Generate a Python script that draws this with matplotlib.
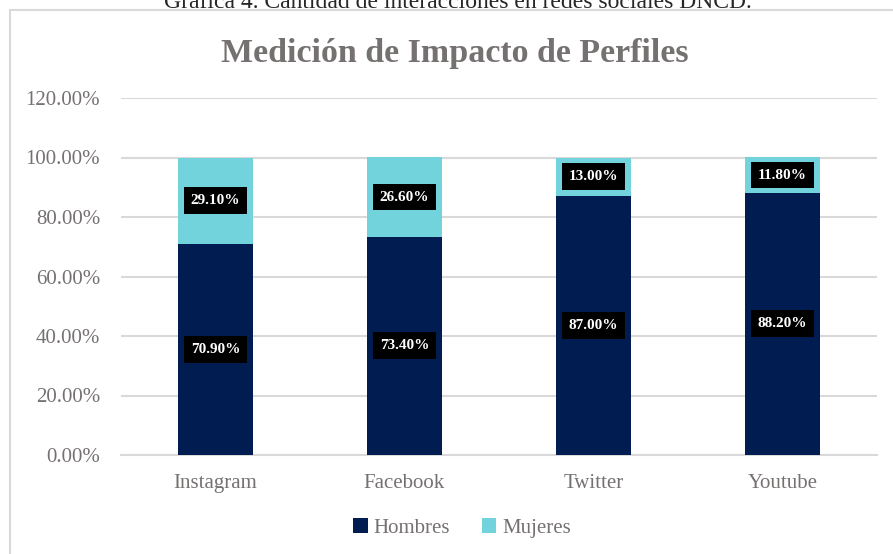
import matplotlib.pyplot as plt
import numpy as np
from matplotlib.patches import Rectangle
from matplotlib.ticker import FuncFormatter

# Datos (porcentajes)
redes = ["Instagram", "Facebook", "Twitter", "Youtube"]
hombres = [70.9, 73.4, 87.0, 88.2]
mujeres = [29.1, 26.6, 13.0, 11.8]
series = ["Hombres", "Mujeres"]
yticks = [0, 20, 40, 60, 80, 100, 120]

color_h = "#001C50"
color_m = "#73D3DC"
gris = "#767171"

plt.rcParams['font.family'] = ['Liberation Serif', 'DejaVu Serif']

W, H = 893, 554
fig = plt.figure(figsize=(W / 100, H / 100), dpi=100)

# marco del gráfico
fig.patches.append(Rectangle((10 / W, -0.05), 1.0, (H - 10) / H + 0.05,
                             transform=fig.transFigure, fill=False,
                             edgecolor="#D9D9D9", linewidth=1.5))

fig.text(458 / W, 1 - 8 / H, "Gráfica 4. Cantidad de interacciones en redes sociales DNCD.",
         ha='center', va='baseline', fontsize=17, color="#262626")
fig.text(455 / W, 1 - 62 / H, "Medición de Impacto de Perfiles",
         ha='center', va='baseline', fontsize=24.5, fontweight='bold', color=gris)

ax = fig.add_axes([121 / W, (H - 455) / H, (877 - 121) / W, (455 - 98) / H])
x = np.arange(len(redes))
ancho = 0.4
b1 = ax.bar(x, hombres, ancho, color=color_h, label=series[0], zorder=3)
b2 = ax.bar(x, mujeres, ancho, bottom=hombres, color=color_m, label=series[1], zorder=3)

for i in range(len(redes)):
    for val, base in [(hombres[i], 0), (mujeres[i], hombres[i])]:
        ax.text(x[i], base + val / 2, f"{val:.2f}%", ha='center', va='center',
                fontsize=11, fontweight='bold', color='white', zorder=5,
                bbox=dict(boxstyle='square,pad=0.45', facecolor='black', edgecolor='none'))

ax.set_xlim(-0.5, len(redes) - 0.5)
ax.set_ylim(0, 120)
ax.set_yticks(yticks)
ax.yaxis.set_major_formatter(FuncFormatter(lambda v, p: f"{v:.2f}%"))
ax.set_xticks(x)
ax.set_xticklabels(redes)
ax.grid(axis='y', color="#D9D9D9", linewidth=1.5, zorder=0)
for s in ['top', 'right', 'left']:
    ax.spines[s].set_visible(False)
ax.spines['bottom'].set_color("#D9D9D9")
ax.spines['bottom'].set_linewidth(1.5)
ax.tick_params(axis='both', length=0, labelsize=15, labelcolor=gris)
ax.tick_params(axis='y', pad=15)
ax.tick_params(axis='x', pad=14)

fig.legend(handles=[b1, b2], loc='center', bbox_to_anchor=(462 / W, 1 - 528 / H),
           ncol=2, frameon=False, fontsize=15, labelcolor=gris,
           handlelength=0.7, handleheight=0.7, handletextpad=0.3, columnspacing=1.5)

fig.savefig("out.png", dpi=100)
